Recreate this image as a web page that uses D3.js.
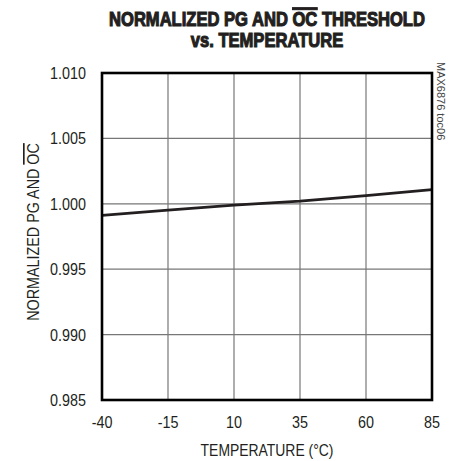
<!DOCTYPE html>
<html>
<head>
<meta charset="utf-8">
<script src="https://cdn.jsdelivr.net/npm/d3@7"></script>
<style>
  body { margin: 0; background: #fff; }
  text { font-family: "Liberation Sans", Arial, sans-serif; fill: #231f20; }
</style>
</head>
<body>
<svg id="chart"></svg>
<script>
// temperature (°C) vs normalized threshold
var temps = [-40, -15, 10, 35, 60, 85];
var thresh = [0.99912, 0.99952, 0.99990, 1.00020, 1.00062, 1.00108];
var xTicks = [-40, -15, 10, 35, 60, 85];
var yTicks = [0.985, 0.990, 0.995, 1.000, 1.005, 1.010];

var width = 449, height = 461;
var pLeft = 102, pRight = 432, pTop = 73, pBottom = 400;
var squeeze = 0.87; // fake a condensed face

var svg = d3.select("#chart").attr("width", width).attr("height", height);

var x = d3.scaleLinear().domain([-40, 85]).range([pLeft, pRight]);
var y = d3.scaleLinear().domain([0.985, 1.010]).range([pBottom, pTop]);

function label(px, py, rot, sx) {
    return svg.append("text")
        .attr("transform", "translate(" + px + "," + py + ") rotate(" + rot + ") scale(" + sx + ",1)");
}

// grid
svg.append("g").selectAll("line").data(xTicks.slice(1, -1)).enter().append("line")
    .attr("x1", function (d) { return x(d); }).attr("x2", function (d) { return x(d); })
    .attr("y1", pTop).attr("y2", pBottom)
    .style("stroke", "#777").style("stroke-width", 1.2);
svg.append("g").selectAll("line").data(yTicks.slice(1, -1)).enter().append("line")
    .attr("x1", pLeft).attr("x2", pRight)
    .attr("y1", function (d) { return y(d); }).attr("y2", function (d) { return y(d); })
    .style("stroke", "#777").style("stroke-width", 1.2);

// data line
var line = d3.line().x(function (d, i) { return x(temps[i]); }).y(function (d) { return y(d); });
svg.append("path").datum(thresh).attr("d", line)
    .style("fill", "none").style("stroke", "#231f20").style("stroke-width", 2.8);

// frame
svg.append("rect").attr("x", pLeft).attr("y", pTop).attr("width", pRight - pLeft).attr("height", pBottom - pTop)
    .style("fill", "none").style("stroke", "#000").style("stroke-width", 2.6);

// tick labels
yTicks.forEach(function (d) {
    label(pLeft - 16, y(d) + 6, 0, squeeze).attr("text-anchor", "end")
        .style("font-size", "16.5px").text(d3.format(".3f")(d));
});
xTicks.forEach(function (d) {
    label(x(d), 428, 0, squeeze).attr("text-anchor", "middle")
        .style("font-size", "16.5px").text(d < 0 ? "-" + Math.abs(d) : d);
});

// axis titles
label(267, 456, 0, squeeze).attr("text-anchor", "middle")
    .style("font-size", "16px").text("TEMPERATURE (°C)");

var yl = label(39, 232, -90, squeeze).attr("text-anchor", "middle").style("font-size", "16.5px");
yl.append("tspan").text("NORMALIZED PG AND ");
yl.append("tspan").style("text-decoration", "overline").text("OC");

// title
var t1 = label(267, 26, 0, 0.85).attr("text-anchor", "middle")
    .style("font-size", "19.5px").style("font-weight", "bold")
    .style("stroke", "#231f20").style("stroke-width", 1.1);
t1.append("tspan").text("NORMALIZED PG AND ");
t1.append("tspan").style("text-decoration", "overline").text("OC");
t1.append("tspan").text(" THRESHOLD");
label(267, 47, 0, 0.85).attr("text-anchor", "middle")
    .style("font-size", "19.5px").style("font-weight", "bold")
    .style("stroke", "#231f20").style("stroke-width", 1.1)
    .text("vs. TEMPERATURE");

// side note
label(437, 62, 90, 1).attr("text-anchor", "start")
    .style("font-size", "11px").style("fill", "#444")
    .text("MAX6876 toc06");
</script>
</body>
</html>
